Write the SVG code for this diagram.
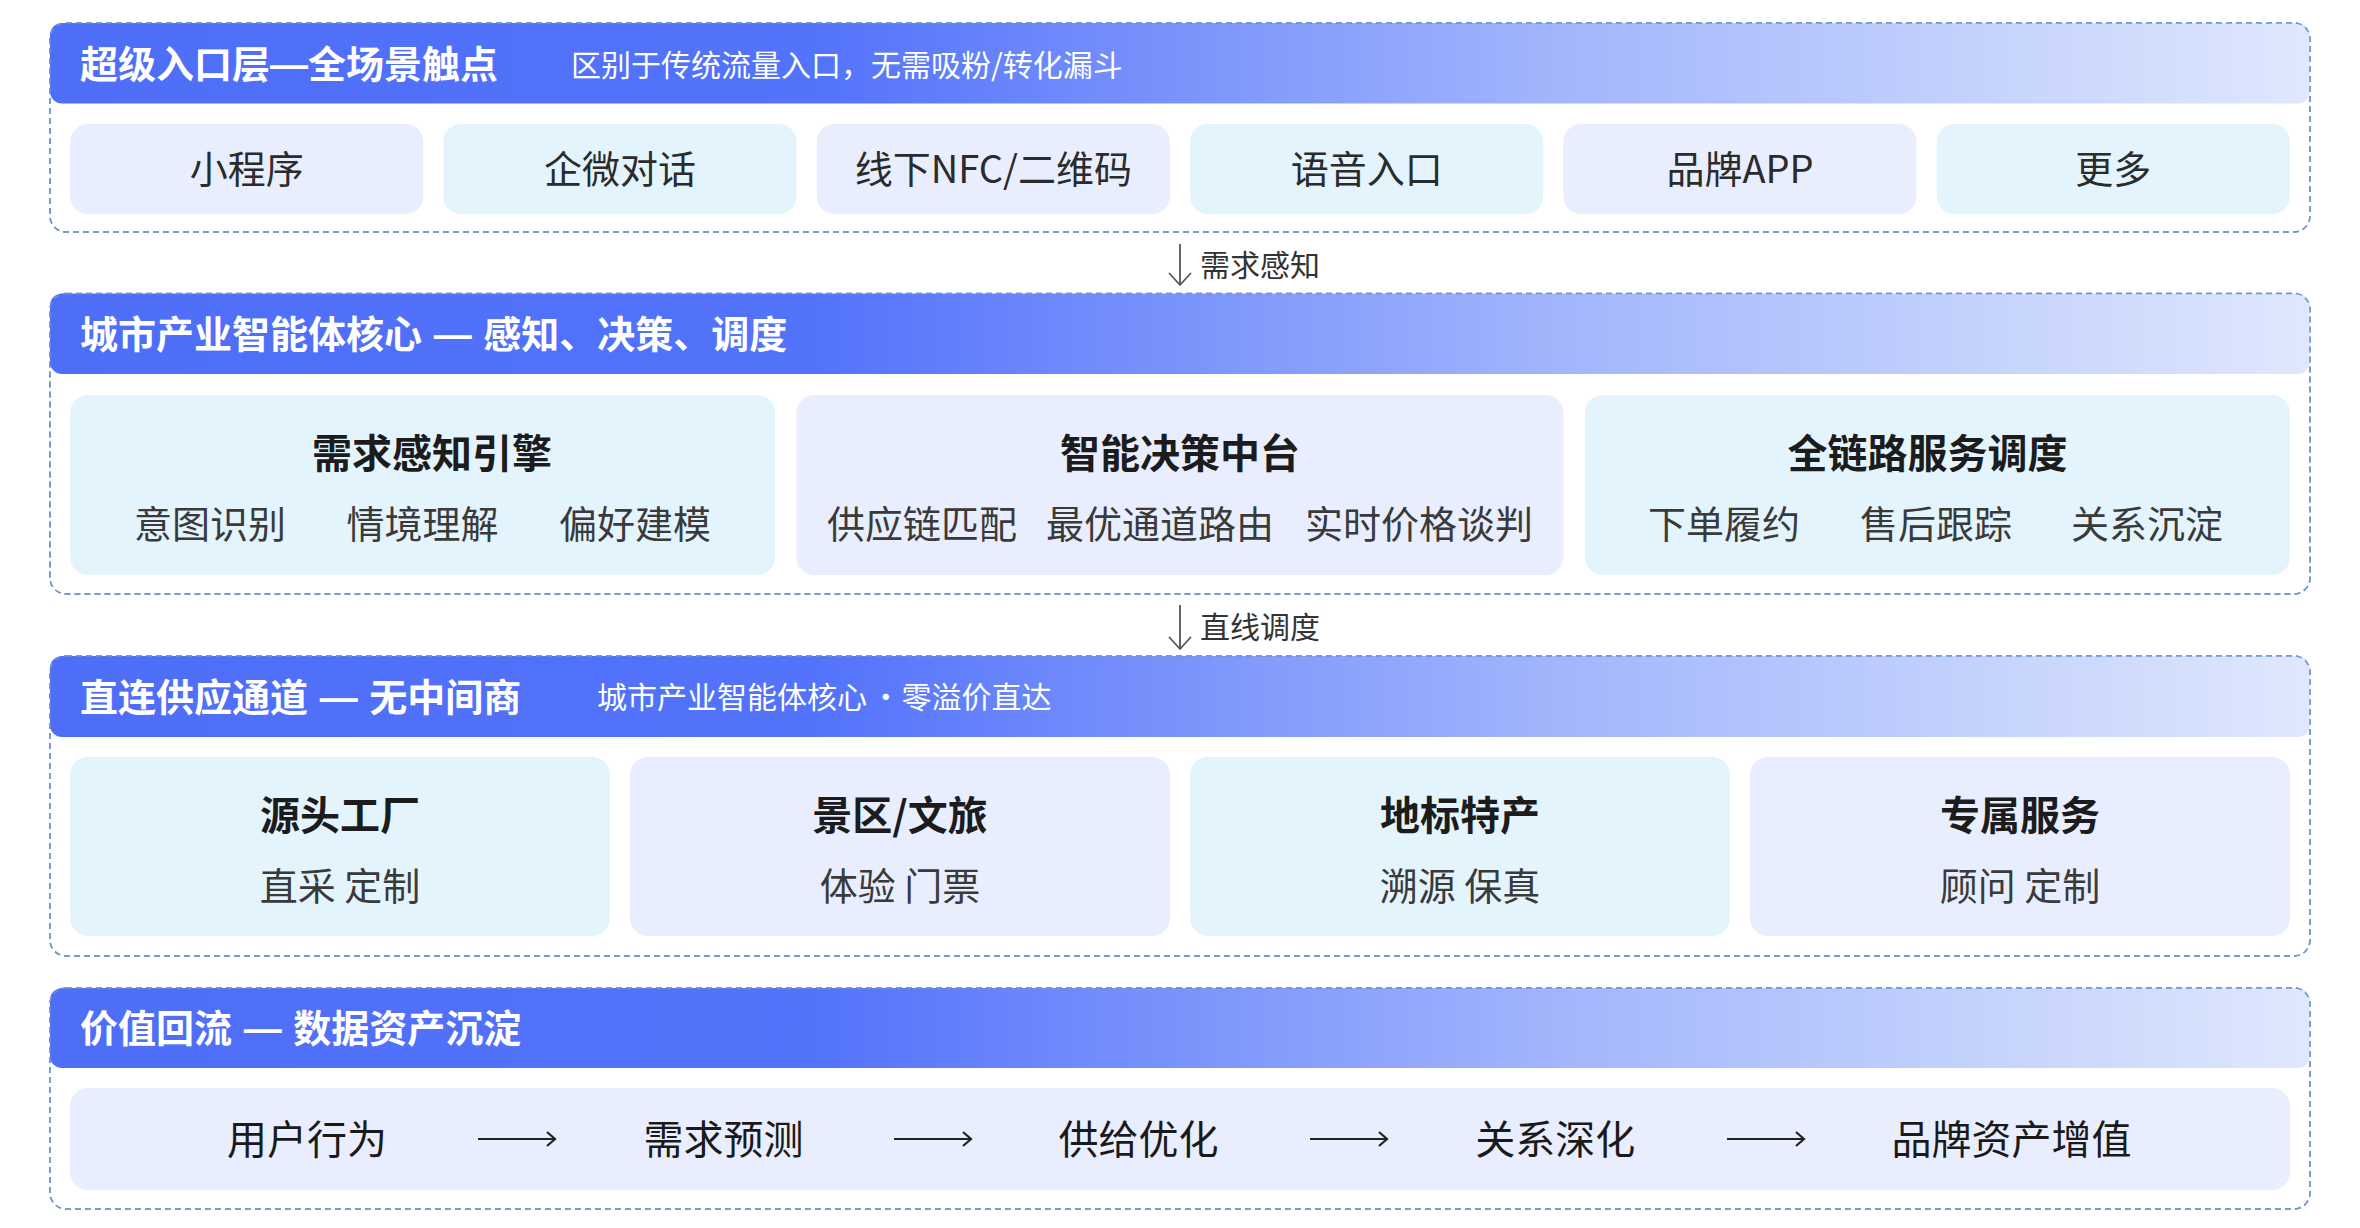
<svg xmlns="http://www.w3.org/2000/svg" width="2360" height="1228" viewBox="0 0 2360 1228">
<defs>
<linearGradient id="hdr" x1="0" y1="0" x2="1" y2="0">
<stop offset="0" stop-color="#4e6ef8"/>
<stop offset="0.34" stop-color="#5373fb"/>
<stop offset="0.67" stop-color="#a3b6fc"/>
<stop offset="1" stop-color="#dfe8fd"/>
</linearGradient>
<marker id="ah" viewBox="-13 -12 15 24" markerWidth="15" markerHeight="24" refX="0" refY="0" orient="auto" markerUnits="userSpaceOnUse" overflow="visible">
<path d="M-11.5,-10.5 L0,0 L-11.5,10.5" fill="none" stroke="#555" stroke-width="1.8" stroke-linecap="round" stroke-linejoin="round"/>
</marker>
<marker id="fh" viewBox="-10 -9 12 18" markerWidth="12" markerHeight="18" refX="0" refY="0" orient="auto" markerUnits="userSpaceOnUse" overflow="visible">
<path d="M-8,-7 L0,0 L-8,7" fill="none" stroke="#222" stroke-width="2.2" stroke-linejoin="miter"/>
</marker>
</defs>
<style>
text{font-family:"Noto Sans CJK SC","Noto Sans",sans-serif}
.dash{font-family:"Liberation Sans","Noto Sans CJK SC",sans-serif}
.outer{fill:#fff;stroke:#6f93d2;stroke-width:1.5;stroke-dasharray:6 4}
.outline{fill:none;stroke:#6f93d2;stroke-width:1.5;stroke-dasharray:6 4}
.hdr{fill:url(#hdr)}
.ht{fill:#fff;font-size:38px;font-weight:700}
.hs{fill:#fff;font-size:30px;font-weight:400}
.lav{fill:#e8eefd}
.cya{fill:#e3f4fd}
.it{fill:#2b2b2b;font-size:38px;text-anchor:middle}
.bt{fill:#1c1c1c;font-size:40px;font-weight:700;text-anchor:middle}
.st{fill:#3a3a3a;font-size:38px;text-anchor:middle}
.ft{fill:#1a1a1a;font-size:40px;text-anchor:middle}
.al{fill:#333;font-size:30px}
.conn{stroke:#555;stroke-width:1.8;fill:none}
.fconn{stroke:#222;stroke-width:2.2;fill:none}
</style>
<rect width="2360" height="1228" fill="#fff"/>

<!-- Section 1 -->
<g id="layer-entry">
<rect class="outer" x="50" y="23" width="2260" height="209" rx="16"/>
<rect class="hdr" x="50" y="23" width="2260" height="80.5" rx="12"/>
<rect class="outline" x="50" y="23" width="2260" height="209" rx="16"/>
<text class="ht" x="80" y="78">超级入口层<tspan class="dash">—</tspan>全场景触点</text>
<text class="hs" x="571" y="75.5">区别于传统流量入口，无需吸粉/转化漏斗</text>
</g>
<g id="entry-miniapp"><rect class="lav" x="70" y="124" width="353.3" height="90" rx="18"/><text class="it" x="246.7" y="183.4">小程序</text></g>
<g id="entry-wecom"><rect class="cya" x="443.3" y="124" width="353.3" height="90" rx="18"/><text class="it" x="620" y="183.4">企微对话</text></g>
<g id="entry-nfc"><rect class="lav" x="816.7" y="124" width="353.3" height="90" rx="18"/><text class="it" x="993.3" y="183.4">线下NFC/二维码</text></g>
<g id="entry-voice"><rect class="cya" x="1190" y="124" width="353.3" height="90" rx="18"/><text class="it" x="1366.7" y="183.4">语音入口</text></g>
<g id="entry-app"><rect class="lav" x="1563.3" y="124" width="353.3" height="90" rx="18"/><text class="it" x="1740" y="183.4">品牌APP</text></g>
<g id="entry-more"><rect class="cya" x="1936.7" y="124" width="353.3" height="90" rx="18"/><text class="it" x="2113.3" y="183.4">更多</text></g>

<!-- Section 2 -->
<g id="layer-core">
<rect class="outer" x="50" y="293.5" width="2260" height="300.5" rx="16"/>
<rect class="hdr" x="50" y="293.5" width="2260" height="80.5" rx="12"/>
<rect class="outline" x="50" y="293.5" width="2260" height="300.5" rx="16"/>
<text class="ht" x="80" y="348.4">城市产业智能体核心 <tspan class="dash" dx="3">—</tspan> <tspan dx="3">感知、决策、调度</tspan></text>
</g>
<g id="core-perception">
<rect class="cya" x="70" y="395" width="705" height="180" rx="18"/>
<text class="bt" x="432" y="467.7">需求感知引擎</text>
<text class="st" x="210" y="538.4">意图识别</text>
<text class="st" x="422.5" y="538.4">情境理解</text>
<text class="st" x="635" y="538.4">偏好建模</text>
</g>
<g id="core-decision">
<rect class="lav" x="796.5" y="395" width="767" height="180" rx="18"/>
<text class="bt" x="1180" y="467.7">智能决策中台</text>
<text class="st" x="922" y="538.4">供应链匹配</text>
<text class="st" x="1160" y="538.4">最优通道路由</text>
<text class="st" x="1419" y="538.4">实时价格谈判</text>
</g>
<g id="core-dispatch">
<rect class="cya" x="1585" y="395" width="705" height="180" rx="18"/>
<text class="bt" x="1927.5" y="467.7">全链路服务调度</text>
<text class="st" x="1724" y="538.4">下单履约</text>
<text class="st" x="1936" y="538.4">售后跟踪</text>
<text class="st" x="2147" y="538.4">关系沉淀</text>
</g>

<!-- Section 3 -->
<g id="layer-supply">
<rect class="outer" x="50" y="656" width="2260" height="300" rx="16"/>
<rect class="hdr" x="50" y="656" width="2260" height="81" rx="12"/>
<rect class="outline" x="50" y="656" width="2260" height="300" rx="16"/>
<text class="ht" x="80" y="711">直连供应通道 <tspan class="dash" dx="3">—</tspan> <tspan dx="3">无中间商</tspan></text>
<text class="hs" x="597" y="708">城市产业智能体核心 <tspan dx="-3">·</tspan> <tspan dx="-6">零溢价直达</tspan></text>
</g>
<g id="supply-factory"><rect class="cya" x="70" y="757" width="540" height="179" rx="18"/><text class="bt" x="340" y="830">源头工厂</text><text class="st" x="340" y="900.4">直采 定制</text></g>
<g id="supply-scenic"><rect class="lav" x="630" y="757" width="540" height="179" rx="18"/><text class="bt" x="900" y="830">景区/文旅</text><text class="st" x="900" y="900.4">体验 门票</text></g>
<g id="supply-local"><rect class="cya" x="1190" y="757" width="540" height="179" rx="18"/><text class="bt" x="1460" y="830">地标特产</text><text class="st" x="1460" y="900.4">溯源 保真</text></g>
<g id="supply-service"><rect class="lav" x="1750" y="757" width="540" height="179" rx="18"/><text class="bt" x="2020" y="830">专属服务</text><text class="st" x="2020" y="900.4">顾问 定制</text></g>

<!-- Section 4 -->
<g id="layer-value">
<rect class="outer" x="50" y="988" width="2260" height="221" rx="16"/>
<rect class="hdr" x="50" y="988" width="2260" height="80" rx="12"/>
<rect class="outline" x="50" y="988" width="2260" height="221" rx="16"/>
<text class="ht" x="80" y="1042.4">价值回流 <tspan class="dash" dx="3">—</tspan> <tspan dx="3">数据资产沉淀</tspan></text>
</g>
<g id="value-flow">
<rect class="lav" x="70" y="1088" width="2220" height="102" rx="18"/>
<text class="ft" x="307" y="1153.6">用户行为</text>
<text class="ft" x="723.5" y="1153.6">需求预测</text>
<text class="ft" x="1138.5" y="1153.6">供给优化</text>
<text class="ft" x="1555.3" y="1153.6">关系深化</text>
<text class="ft" x="2011.5" y="1153.6">品牌资产增值</text>
</g>

<!-- Connectors -->
<g id="connectors">
<line class="conn" x1="1180" y1="244" x2="1180" y2="285" marker-end="url(#ah)"/>
<text class="al" x="1200" y="276">需求感知</text>
<line class="conn" x1="1180" y1="605" x2="1180" y2="649" marker-end="url(#ah)"/>
<text class="al" x="1200" y="638">直线调度</text>
<line class="fconn" x1="478" y1="1139" x2="555" y2="1139" marker-end="url(#fh)"/>
<line class="fconn" x1="894" y1="1139" x2="971" y2="1139" marker-end="url(#fh)"/>
<line class="fconn" x1="1310" y1="1139" x2="1387" y2="1139" marker-end="url(#fh)"/>
<line class="fconn" x1="1727" y1="1139" x2="1804" y2="1139" marker-end="url(#fh)"/>
</g>
</svg>
